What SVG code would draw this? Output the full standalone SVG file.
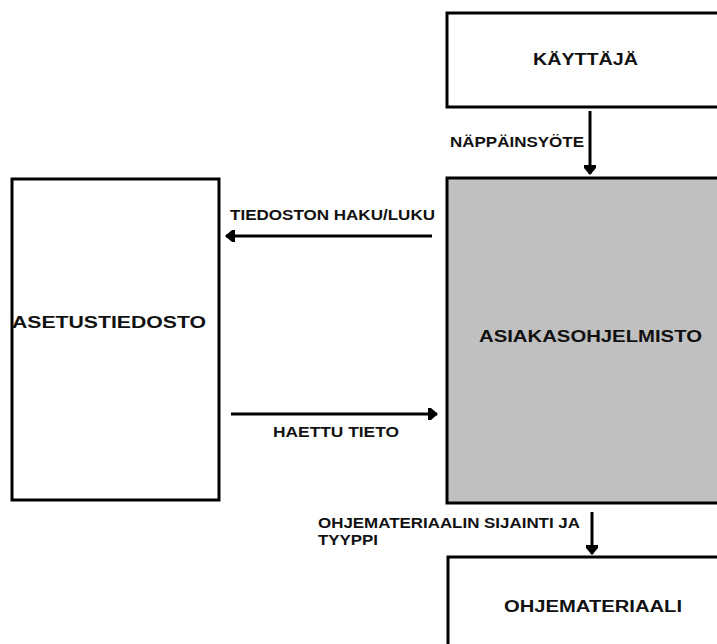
<svg xmlns="http://www.w3.org/2000/svg" width="717" height="644" viewBox="0 0 717 644">
  <style>
    .box { fill: #ffffff; stroke: #000000; stroke-width: 3; }
    .gray { fill: #c0c0c0; }
    .node { font-family: "Liberation Sans", Arial, sans-serif; font-weight: bold; font-size: 16px; fill: #111111; }
    .lbl { font-family: "Liberation Sans", Arial, sans-serif; font-weight: bold; font-size: 14px; fill: #111111; }
    .edge { stroke: #000000; stroke-width: 3; fill: none; }
  </style>
  <defs>
    <marker id="arrow" viewBox="0 0 10 12" refX="9" refY="6" markerWidth="10" markerHeight="12" markerUnits="userSpaceOnUse" orient="auto">
      <path d="M0,0 L3,0 L10,6 L3,12 L0,12 Z" fill="#000000"/>
    </marker>
  </defs>
  <rect x="0" y="0" width="717" height="644" fill="#ffffff"/>

  <g id="kayttaja">
    <rect class="box" x="447" y="13" width="280" height="94"/>
    <text class="node" x="533" y="65" textLength="105" lengthAdjust="spacingAndGlyphs">KÄYTTÄJÄ</text>
  </g>

  <g id="asiakasohjelmisto">
    <rect class="box gray" x="447" y="178" width="280" height="325"/>
    <text class="node" x="479" y="342" textLength="223" lengthAdjust="spacingAndGlyphs">ASIAKASOHJELMISTO</text>
  </g>

  <g id="asetustiedosto">
    <rect class="box" x="12" y="179" width="207" height="321"/>
    <text class="node" x="12" y="328" textLength="194" lengthAdjust="spacingAndGlyphs">ASETUSTIEDOSTO</text>
  </g>

  <g id="ohjemateriaali">
    <rect class="box" x="448" y="557" width="280" height="100"/>
    <text class="node" x="504" y="612" textLength="178" lengthAdjust="spacingAndGlyphs">OHJEMATERIAALI</text>
  </g>

  <g id="connectors">
    <line class="edge" x1="590" y1="111" x2="590" y2="174" marker-end="url(#arrow)"/>
    <line class="edge" x1="432" y1="236" x2="226" y2="236" marker-end="url(#arrow)"/>
    <line class="edge" x1="231" y1="414" x2="437" y2="414" marker-end="url(#arrow)"/>
    <line class="edge" x1="592" y1="512" x2="592" y2="554" marker-end="url(#arrow)"/>
  </g>

  <g id="labels">
    <text class="lbl" x="450" y="147" textLength="134" lengthAdjust="spacingAndGlyphs">NÄPPÄINSYÖTE</text>
    <text class="lbl" x="230" y="220" textLength="205" lengthAdjust="spacingAndGlyphs">TIEDOSTON HAKU/LUKU</text>
    <text class="lbl" x="273" y="437" textLength="126" lengthAdjust="spacingAndGlyphs">HAETTU TIETO</text>
    <text class="lbl" x="318" y="528" textLength="262" lengthAdjust="spacingAndGlyphs">OHJEMATERIAALIN SIJAINTI JA</text>
    <text class="lbl" x="318" y="545" textLength="60" lengthAdjust="spacingAndGlyphs">TYYPPI</text>
  </g>
</svg>
